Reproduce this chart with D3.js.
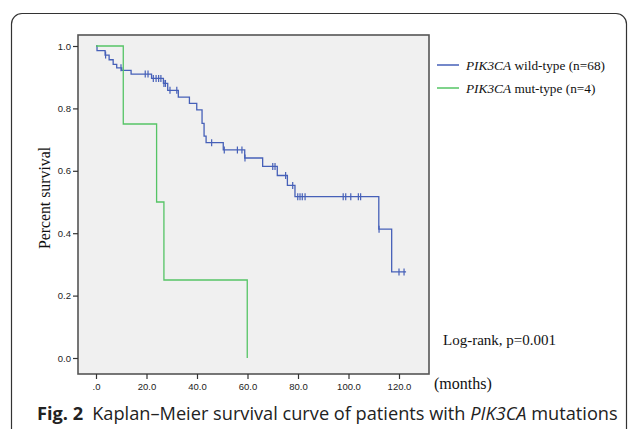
<!DOCTYPE html>
<html>
<head>
<meta charset="utf-8">
<script src="https://cdn.jsdelivr.net/npm/d3@7"></script>
<style>
  body { margin: 0; background: #fff; }
  svg { display: block; }
</style>
</head>
<body>
<div id="chart"></div>
<script>
// survival steps: [month of drop, survival after drop]
const wildSteps = [
  [0.4, 0.985], [3.6, 0.971], [5.2, 0.956], [6.8, 0.941], [8.2, 0.93],
  [10.2, 0.922], [13.9, 0.91], [22.0, 0.896], [26.7, 0.88], [28.4, 0.858],
  [32.6, 0.836], [37.0, 0.816], [39.9, 0.795], [42.0, 0.752], [42.8, 0.711],
  [43.6, 0.69], [50.4, 0.667], [58.9, 0.641], [66.0, 0.614], [71.8, 0.585],
  [75.8, 0.553], [78.8, 0.517], [112.0, 0.413], [117.1, 0.276]
];
const wildEnd = 122.8;
const wildCensored = [
  3.8, 9.9, 19.5, 20.6, 22.7, 23.8, 24.8, 25.7, 26.9, 27.5, 29.3, 32.0,
  45.8, 50.8, 56.0, 57.8, 59.0, 70.0, 70.9, 75.1, 77.9, 79.9, 80.8, 81.7,
  82.8, 97.9, 98.9, 100.9, 103.9, 104.8, 112.1, 120.0, 122.0
];
const mutSteps = [[10.8, 0.75], [24.0, 0.5], [26.9, 0.25], [59.9, 0.0]];
const mutEnd = 59.9;

const xTicks = [0, 20, 40, 60, 80, 100, 120];
const xTickLabels = ['.0', '20.0', '40.0', '60.0', '80.0', '100.0', '120.0'];
const yTicks = [0, 0.2, 0.4, 0.6, 0.8, 1.0];

const legendItems = [
  { gene: 'PIK3CA', rest: ' wild-type (n=68)', color: '#4660b8' },
  { gene: 'PIK3CA', rest: ' mut-type (n=4)', color: '#55c465' }
];

const W = 629, H = 429;
const frame = { left: 78, top: 35, right: 429, bottom: 374 };

const svg = d3.select('#chart').append('svg')
  .attr('width', W)
  .attr('height', H);

// outer panel border (open at the bottom)
svg.append('path')
  .attr('d', 'M11.5,429 V24 A10.5,10.5 0 0 1 22,13.5 H616 A10.5,10.5 0 0 1 626.5,24 V429')
  .attr('fill', 'none')
  .attr('stroke', '#333')
  .attr('stroke-width', 1.2);

const x = d3.scaleLinear().domain([0, 120]).range([96, 399]);
const y = d3.scaleLinear().domain([0, 1]).range([358, 46]);

// plot background + frame
svg.append('rect')
  .attr('x', frame.left)
  .attr('y', frame.top)
  .attr('width', frame.right - frame.left)
  .attr('height', frame.bottom - frame.top)
  .attr('fill', '#f0f0f0')
  .attr('stroke', '#555')
  .attr('stroke-width', 1.6);

// axes
const yAxis = d3.axisLeft(y)
  .tickValues(yTicks)
  .tickFormat(d3.format('.1f'))
  .tickSize(5)
  .tickPadding(2);
svg.append('g')
  .attr('transform', `translate(${frame.left},0)`)
  .call(yAxis)
  .call(g => g.select('.domain').remove());

const xAxis = d3.axisBottom(x)
  .tickValues(xTicks)
  .tickFormat((d, i) => xTickLabels[i])
  .tickSize(5)
  .tickPadding(4);
svg.append('g')
  .attr('transform', `translate(0,${frame.bottom})`)
  .call(xAxis)
  .call(g => g.select('.domain').remove());

svg.selectAll('.tick line').attr('stroke', '#333').attr('stroke-width', 1.2);
svg.selectAll('.tick text')
  .attr('fill', '#222')
  .style('font-family', 'Liberation Sans, Arial, sans-serif')
  .style('font-size', '9.5px');

// step path builder
function stepPoints(steps, end) {
  const pts = [[0, 1]];
  let s = 1;
  steps.forEach(([t, v]) => {
    pts.push([t, s]);
    pts.push([t, v]);
    s = v;
  });
  pts.push([end, s]);
  return pts;
}
function survivalAt(steps, t) {
  let s = 1;
  steps.forEach(([tt, v]) => { if (tt <= t) s = v; });
  return s;
}

const line = d3.line().x(d => x(d[0])).y(d => y(d[1]));

svg.append('path')
  .datum(stepPoints(wildSteps, wildEnd))
  .attr('d', line)
  .attr('fill', 'none')
  .attr('stroke', legendItems[0].color)
  .attr('stroke-width', 1.3);

svg.append('path')
  .datum(stepPoints(mutSteps, mutEnd))
  .attr('d', line)
  .attr('fill', 'none')
  .attr('stroke', legendItems[1].color)
  .attr('stroke-width', 1.3);

svg.selectAll('.censor')
  .data(wildCensored)
  .enter()
  .append('line')
  .attr('class', 'censor')
  .attr('x1', d => x(d))
  .attr('x2', d => x(d))
  .attr('y1', d => y(survivalAt(wildSteps, d)) - 3.5)
  .attr('y2', d => y(survivalAt(wildSteps, d)) + 3.5)
  .attr('stroke', legendItems[0].color)
  .attr('stroke-width', 1.2);

// legend
const serif = 'Liberation Serif, Times New Roman, serif';
const leg = svg.append('g');
legendItems.forEach((d, i) => {
  const ly = 65 + i * 23;
  leg.append('line')
    .attr('x1', 437).attr('x2', 459)
    .attr('y1', ly).attr('y2', ly)
    .attr('stroke', d.color)
    .attr('stroke-width', 1.5);
  const t = leg.append('text')
    .attr('x', 466)
    .attr('y', ly + 4.5)
    .style('font-family', serif)
    .style('font-size', '13.3px')
    .attr('fill', '#111');
  t.append('tspan').style('font-style', 'italic').text(d.gene);
  t.append('tspan').text(d.rest);
});

svg.append('text')
  .attr('x', 443)
  .attr('y', 345)
  .style('font-family', serif)
  .style('font-size', '15px')
  .attr('fill', '#111')
  .text('Log-rank, p=0.001');

svg.append('text')
  .attr('x', 434)
  .attr('y', 389)
  .style('font-family', serif)
  .style('font-size', '16px')
  .attr('fill', '#111')
  .text('(months)');

svg.append('text')
  .attr('transform', 'translate(50,198) rotate(-90)')
  .attr('text-anchor', 'middle')
  .style('font-family', serif)
  .style('font-size', '15.8px')
  .attr('fill', '#111')
  .text('Percent survival');

// caption
const cap = svg.append('text')
  .attr('x', 37)
  .attr('y', 420)
  .style('font-family', 'Open Sans, Noto Sans, sans-serif')
  .style('font-size', '18.2px')
  .attr('fill', '#222');
cap.append('tspan').style('font-weight', 'bold').text('Fig. 2');
cap.append('tspan').text('\u2002Kaplan\u2013Meier survival curve of patients with ');
cap.append('tspan').style('font-style', 'italic').text('PIK3CA');
cap.append('tspan').text(' mutations');
</script>
</body>
</html>
